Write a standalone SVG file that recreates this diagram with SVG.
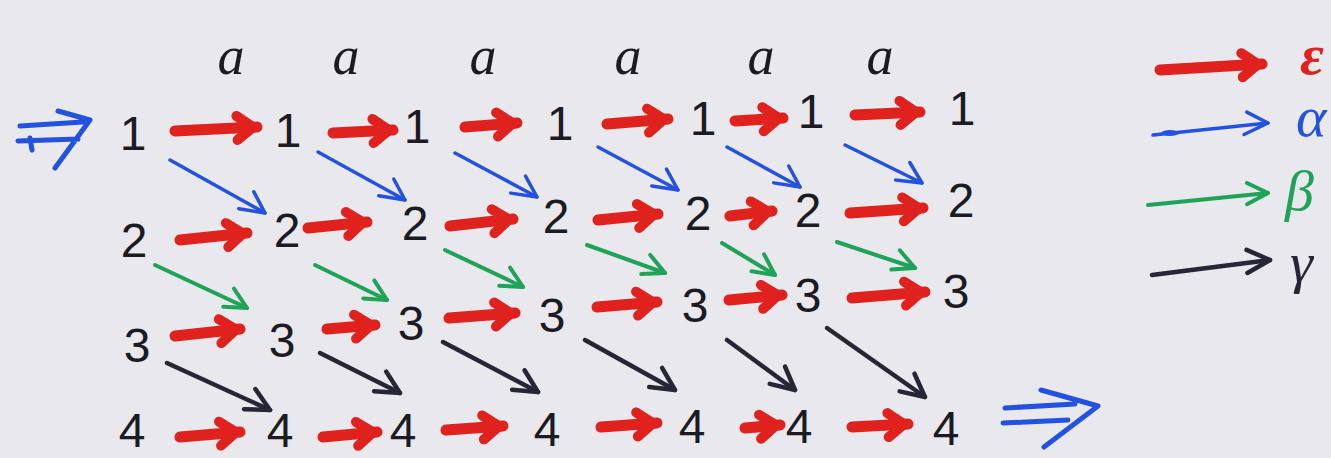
<svg xmlns="http://www.w3.org/2000/svg" width="1331" height="458" viewBox="0 0 1331 458">
  <style>
    .d { font-family: "Liberation Sans", "DejaVu Sans", sans-serif; font-size: 48px; fill: #1b1b24; text-anchor: middle; }
    .a { font-family: "Liberation Serif", "DejaVu Serif", serif; font-style: italic; font-size: 54px; fill: #1b1b24; text-anchor: middle; }
    .g { font-family: "Liberation Serif", "DejaVu Serif", serif; font-style: italic; font-size: 58px; }
    .eps { stroke: #e0221e; stroke-width: 11; stroke-linecap: round; fill: none; }
    .alp { stroke: #2352e0; stroke-width: 3.5; stroke-linecap: round; fill: none; }
    .bet { stroke: #1fa358; stroke-width: 4; stroke-linecap: round; fill: none; }
    .gam { stroke: #262636; stroke-width: 4.5; stroke-linecap: round; fill: none; }
    .dbl { stroke: #2352e0; stroke-width: 5; stroke-linecap: round; stroke-linejoin: round; fill: none; }
    .hr { stroke: #e0221e; stroke-width: 10; stroke-linecap: round; stroke-linejoin: round; fill: none; }
    .hb { stroke: #2352e0; stroke-width: 3.5; stroke-linecap: round; stroke-linejoin: round; fill: none; }
    .hg { stroke: #1fa358; stroke-width: 4; stroke-linecap: round; stroke-linejoin: round; fill: none; }
    .hk { stroke: #262636; stroke-width: 4.5; stroke-linecap: round; stroke-linejoin: round; fill: none; }
  </style>
  <defs>
    <marker id="mRed" markerUnits="userSpaceOnUse" orient="auto" refX="0" refY="0" markerWidth="40" markerHeight="40" overflow="visible">
      <path class="hr" d="M-20,-12 L-4,0 L-20,12"/>
    </marker>
    <marker id="mBlue" markerUnits="userSpaceOnUse" orient="auto" refX="0" refY="0" markerWidth="40" markerHeight="40" overflow="visible">
      <path class="hb" d="M-20,-13 L0,0 L-25,9"/>
    </marker>
    <marker id="mGreen" markerUnits="userSpaceOnUse" orient="auto" refX="0" refY="0" markerWidth="40" markerHeight="40" overflow="visible">
      <path class="hg" d="M-20,-12 L0,0 L-22,9"/>
    </marker>
    <marker id="mDark" markerUnits="userSpaceOnUse" orient="auto" refX="0" refY="0" markerWidth="40" markerHeight="40" overflow="visible">
      <path class="hk" d="M-22,-13 L0,0 L-24,10"/>
    </marker>
  </defs>

  <rect width="1331" height="458" fill="#e8e8ed"/>

  <!-- input symbols -->
  <g id="symbols">
    <text class="a" x="231" y="74">a</text>
    <text class="a" x="346" y="74">a</text>
    <text class="a" x="483" y="74">a</text>
    <text class="a" x="628" y="74">a</text>
    <text class="a" x="761" y="74">a</text>
    <text class="a" x="880" y="74">a</text>
  </g>

  <!-- state 1 row -->
  <g id="s1-0"><text class="d" x="133" y="150">1</text></g>
  <g id="s1-1"><text class="d" x="288" y="147">1</text></g>
  <g id="s1-2"><text class="d" x="417" y="143">1</text></g>
  <g id="s1-3"><text class="d" x="560" y="140">1</text></g>
  <g id="s1-4"><text class="d" x="703" y="135">1</text></g>
  <g id="s1-5"><text class="d" x="811" y="128">1</text></g>
  <g id="s1-6"><text class="d" x="962" y="125">1</text></g>

  <!-- state 2 row -->
  <g id="s2-0"><text class="d" x="134" y="257">2</text></g>
  <g id="s2-1"><text class="d" x="287" y="247">2</text></g>
  <g id="s2-2"><text class="d" x="415" y="240">2</text></g>
  <g id="s2-3"><text class="d" x="556" y="233">2</text></g>
  <g id="s2-4"><text class="d" x="698" y="230">2</text></g>
  <g id="s2-5"><text class="d" x="808" y="227">2</text></g>
  <g id="s2-6"><text class="d" x="961" y="217">2</text></g>

  <!-- state 3 row -->
  <g id="s3-0"><text class="d" x="137" y="362">3</text></g>
  <g id="s3-1"><text class="d" x="282" y="357">3</text></g>
  <g id="s3-2"><text class="d" x="411" y="340">3</text></g>
  <g id="s3-3"><text class="d" x="552" y="332">3</text></g>
  <g id="s3-4"><text class="d" x="695" y="322">3</text></g>
  <g id="s3-5"><text class="d" x="808" y="312">3</text></g>
  <g id="s3-6"><text class="d" x="956" y="308">3</text></g>

  <!-- state 4 row -->
  <g id="s4-0"><text class="d" x="132" y="447">4</text></g>
  <g id="s4-1"><text class="d" x="280" y="447">4</text></g>
  <g id="s4-2"><text class="d" x="403" y="447">4</text></g>
  <g id="s4-3"><text class="d" x="547" y="446">4</text></g>
  <g id="s4-4"><text class="d" x="692" y="443">4</text></g>
  <g id="s4-5"><text class="d" x="799" y="443">4</text></g>
  <g id="s4-6"><text class="d" x="946" y="445">4</text></g>

  <!-- legend -->
  <g id="legend">
    <line class="eps" x1="1160" y1="70" x2="1262" y2="64" marker-end="url(#mRed)"/>
    <text class="g" x="1300" y="74" fill="#e0221e" font-weight="bold">ε</text>
    <line class="alp" x1="1153" y1="135" x2="1268" y2="123" marker-end="url(#mBlue)"/>
    <ellipse cx="1170" cy="133" rx="9" ry="3" fill="#2352e0"/>
    <text class="g" x="1296" y="136" fill="#2352e0">α</text>
    <line class="bet" x1="1148" y1="205" x2="1268" y2="193" marker-end="url(#mGreen)"/>
    <text class="g" x="1285" y="210" fill="#1fa358">β</text>
    <line class="gam" x1="1152" y1="275" x2="1270" y2="260" marker-end="url(#mDark)"/>
    <text class="g" x="1290" y="282" fill="#262636">γ</text>
  </g>

  <g id="connectors">
    <!-- start and accept marks -->
    <path class="dbl" d="M20,126 L83,122 M18,141 L78,139 M58,111 L90,120 L55,168 M30,138 L32,150"/>
    <path class="dbl" d="M1005,408 L1075,404 M1003,423 L1068,420 M1041,390 L1098,406 L1044,447"/>

    <!-- epsilon moves -->
    <line class="eps" x1="175" y1="131" x2="257" y2="127" marker-end="url(#mRed)"/>
    <line class="eps" x1="333" y1="133" x2="393" y2="130" marker-end="url(#mRed)"/>
    <line class="eps" x1="465" y1="127" x2="517" y2="123" marker-end="url(#mRed)"/>
    <line class="eps" x1="607" y1="124" x2="668" y2="119" marker-end="url(#mRed)"/>
    <line class="eps" x1="735" y1="121" x2="783" y2="118" marker-end="url(#mRed)"/>
    <line class="eps" x1="855" y1="115" x2="920" y2="112" marker-end="url(#mRed)"/>

    <line class="eps" x1="180" y1="240" x2="247" y2="233" marker-end="url(#mRed)"/>
    <line class="eps" x1="308" y1="228" x2="367" y2="222" marker-end="url(#mRed)"/>
    <line class="eps" x1="450" y1="226" x2="513" y2="219" marker-end="url(#mRed)"/>
    <line class="eps" x1="598" y1="220" x2="658" y2="214" marker-end="url(#mRed)"/>
    <line class="eps" x1="730" y1="216" x2="772" y2="211" marker-end="url(#mRed)"/>
    <line class="eps" x1="850" y1="213" x2="923" y2="208" marker-end="url(#mRed)"/>

    <line class="eps" x1="175" y1="336" x2="240" y2="329" marker-end="url(#mRed)"/>
    <line class="eps" x1="327" y1="329" x2="375" y2="325" marker-end="url(#mRed)"/>
    <line class="eps" x1="449" y1="318" x2="515" y2="313" marker-end="url(#mRed)"/>
    <line class="eps" x1="597" y1="307" x2="657" y2="302" marker-end="url(#mRed)"/>
    <line class="eps" x1="729" y1="300" x2="782" y2="295" marker-end="url(#mRed)"/>
    <line class="eps" x1="852" y1="298" x2="925" y2="292" marker-end="url(#mRed)"/>

    <line class="eps" x1="180" y1="437" x2="240" y2="432" marker-end="url(#mRed)"/>
    <line class="eps" x1="323" y1="437" x2="377" y2="432" marker-end="url(#mRed)"/>
    <line class="eps" x1="446" y1="430" x2="503" y2="426" marker-end="url(#mRed)"/>
    <line class="eps" x1="601" y1="427" x2="657" y2="423" marker-end="url(#mRed)"/>
    <line class="eps" x1="745" y1="428" x2="780" y2="425" marker-end="url(#mRed)"/>
    <line class="eps" x1="852" y1="427" x2="908" y2="424" marker-end="url(#mRed)"/>

    <!-- alpha: 1 to 2 -->
    <line class="alp" x1="170" y1="160" x2="265" y2="213" marker-end="url(#mBlue)"/>
    <line class="alp" x1="318" y1="152" x2="405" y2="200" marker-end="url(#mBlue)"/>
    <line class="alp" x1="455" y1="153" x2="537" y2="197" marker-end="url(#mBlue)"/>
    <line class="alp" x1="598" y1="147" x2="678" y2="190" marker-end="url(#mBlue)"/>
    <line class="alp" x1="727" y1="147" x2="800" y2="187" marker-end="url(#mBlue)"/>
    <line class="alp" x1="845" y1="145" x2="922" y2="183" marker-end="url(#mBlue)"/>

    <!-- beta: 2 to 3 -->
    <line class="bet" x1="155" y1="265" x2="247" y2="308" marker-end="url(#mGreen)"/>
    <line class="bet" x1="315" y1="265" x2="387" y2="300" marker-end="url(#mGreen)"/>
    <line class="bet" x1="445" y1="250" x2="523" y2="287" marker-end="url(#mGreen)"/>
    <line class="bet" x1="587" y1="245" x2="665" y2="273" marker-end="url(#mGreen)"/>
    <line class="bet" x1="722" y1="243" x2="775" y2="275" marker-end="url(#mGreen)"/>
    <line class="bet" x1="837" y1="242" x2="915" y2="268" marker-end="url(#mGreen)"/>

    <!-- gamma: 3 to 4 -->
    <line class="gam" x1="167" y1="363" x2="270" y2="410" marker-end="url(#mDark)"/>
    <line class="gam" x1="320" y1="353" x2="400" y2="393" marker-end="url(#mDark)"/>
    <line class="gam" x1="443" y1="342" x2="538" y2="392" marker-end="url(#mDark)"/>
    <line class="gam" x1="585" y1="340" x2="675" y2="390" marker-end="url(#mDark)"/>
    <line class="gam" x1="727" y1="340" x2="795" y2="390" marker-end="url(#mDark)"/>
    <line class="gam" x1="827" y1="328" x2="925" y2="397" marker-end="url(#mDark)"/>
  </g>
</svg>
